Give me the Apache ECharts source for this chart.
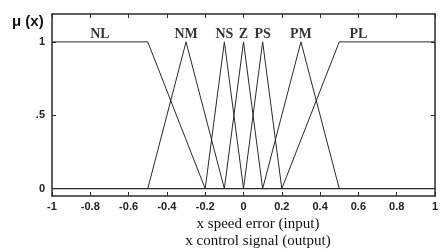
<!DOCTYPE html>
<html>
<head>
<meta charset="utf-8">
<script src="https://cdn.jsdelivr.net/npm/echarts@6/dist/echarts.min.js"></script>
<style>
  html, body { margin: 0; padding: 0; background: #fff; }
  #chart { width: 441px; height: 251px; }
</style>
</head>
<body>
<div id="chart"></div>
<script>
// fuzzy sets: breakpoints (x) and membership (mu)
const setNames = ['NL', 'NM', 'NS', 'Z', 'PS', 'PM', 'PL'];
const setX = [
  [-1, -0.5, -0.2],
  [-0.5, -0.3, -0.1],
  [-0.2, -0.1, 0],
  [-0.1, 0, 0.1],
  [0, 0.1, 0.2],
  [0.1, 0.3, 0.5],
  [0.2, 0.5, 1]
];
const setMu = [
  [1, 1, 0],
  [0, 1, 0],
  [0, 1, 0],
  [0, 1, 0],
  [0, 1, 0],
  [0, 1, 0],
  [0, 1, 1]
];
// where the set names sit
const labelX = [-0.75, -0.3, -0.1, 0, 0.1, 0.3, 0.6];
const labelMu = [1.05, 1.05, 1.05, 1.05, 1.05, 1.05, 1.05];
const yTicks = [0, 0.5, 1];
const yTickText = ['0', '.5', '1'];

let myChart = echarts.init(document.getElementById('chart'));

const lineCol = '#2a2a2a';

let series = setNames.map(function (name, i) {
  return {
    name: name,
    type: 'line',
    data: setX[i].map(function (x, j) { return [x, setMu[i][j]]; }),
    showSymbol: false,
    symbol: 'none',
    silent: true,
    lineStyle: { color: lineCol, width: 1 }
  };
});

// mu = 0 baseline
series.push({
  type: 'line',
  data: [[-1, 0], [1, 0]],
  symbol: 'none',
  silent: true,
  lineStyle: { color: lineCol, width: 1.3 }
});

series.push({
  type: 'scatter',
  symbolSize: 0,
  silent: true,
  data: setNames.map(function (n, i) { return { value: [labelX[i], labelMu[i]], name: n }; }),
  label: {
    show: true,
    position: 'inside',
    formatter: '{b}',
    color: '#000',
    fontFamily: 'Liberation Serif',
    fontWeight: 'bold',
    fontSize: 14
  }
});

const tickStyle = { show: true, inside: true, length: 4, lineStyle: { color: lineCol, width: 1 } };
const axisLineStyle = { show: true, onZero: false, lineStyle: { color: lineCol, width: 1.5 } };

option = {
  backgroundColor: '#fff',
  animation: false,
  grid: { left: 52, right: 6, top: 14, bottom: 55, containLabel: false, outerBoundsMode: 'none' },
  xAxis: [{
    type: 'value',
    min: -1,
    max: 1,
    interval: 0.2,
    position: 'bottom',
    axisLine: axisLineStyle,
    axisTick: tickStyle,
    splitLine: { show: false },
    axisLabel: {
      margin: 5,
      color: '#222',
      fontFamily: 'Liberation Sans',
      fontWeight: 'bold',
      fontSize: 11,
      formatter: function (v) { return String(Number(v.toFixed(1))); }
    }
  }, {
    type: 'value',
    min: -1,
    max: 1,
    interval: 0.2,
    position: 'top',
    axisLine: axisLineStyle,
    axisTick: tickStyle,
    splitLine: { show: false },
    axisLabel: { show: false }
  }],
  yAxis: [{
    type: 'value',
    min: -0.05,
    max: 1.19,
    position: 'left',
    axisLine: axisLineStyle,
    axisTick: Object.assign({}, tickStyle, { customValues: yTicks }),
    splitLine: { show: false },
    axisLabel: {
      customValues: yTicks,
      margin: 7,
      color: '#222',
      fontFamily: 'Liberation Sans',
      fontWeight: 'bold',
      fontSize: 11,
      formatter: function (v) { return yTickText[yTicks.indexOf(Math.round(v * 10) / 10)]; }
    }
  }, {
    type: 'value',
    min: -0.05,
    max: 1.19,
    position: 'right',
    axisLine: axisLineStyle,
    axisTick: Object.assign({}, tickStyle, { customValues: yTicks }),
    splitLine: { show: false },
    axisLabel: { show: false }
  }],
  graphic: [{
    type: 'text',
    left: 12,
    top: 14,
    style: {
      text: 'μ (x)',
      fill: '#111',
      font: 'bold 15px "Liberation Sans"'
    }
  }, {
    type: 'text',
    x: 258,
    y: 224,
    style: {
      text: 'x speed error (input)',
      fill: '#111',
      font: '15px "Liberation Serif"',
      align: 'center',
      verticalAlign: 'middle'
    }
  }, {
    type: 'text',
    x: 258,
    y: 241,
    style: {
      text: 'x control signal (output)',
      fill: '#111',
      font: '15px "Liberation Serif"',
      align: 'center',
      verticalAlign: 'middle'
    }
  }],
  series: series
};

myChart.setOption(option);
</script>
</body>
</html>
